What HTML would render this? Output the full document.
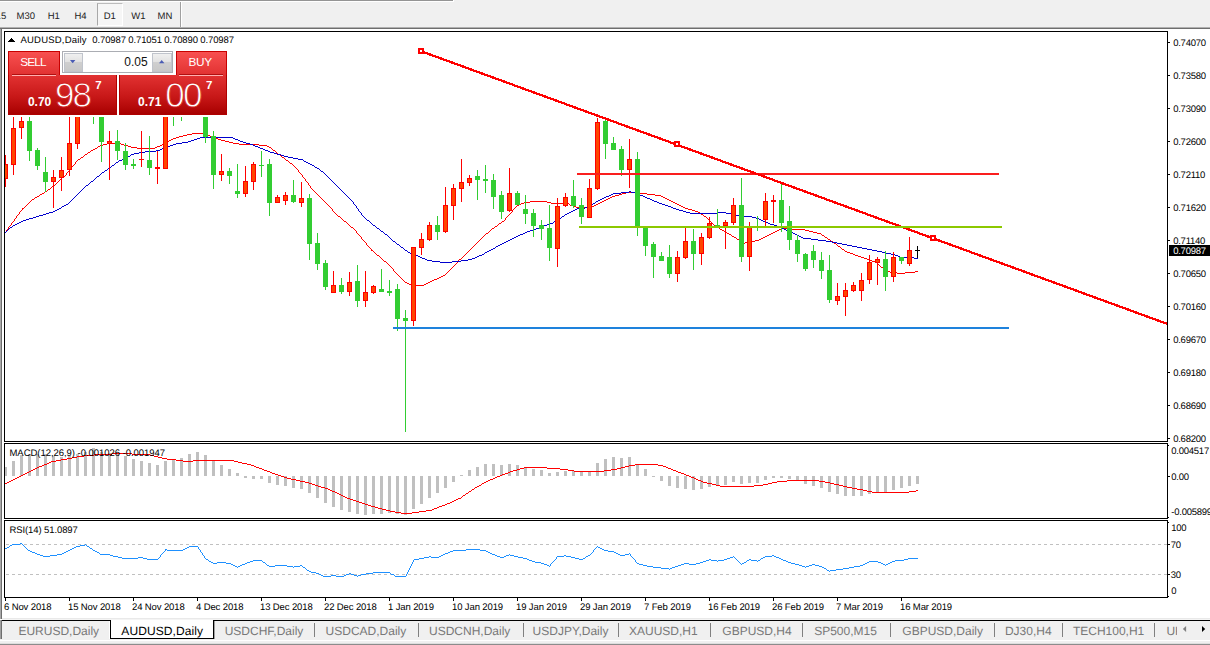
<!DOCTYPE html>
<html><head><meta charset="utf-8"><title>AUDUSD</title>
<style>
html,body{margin:0;padding:0;}
body{width:1210px;height:645px;overflow:hidden;background:#fff;position:relative;font-family:"Liberation Sans",sans-serif;}
.t{position:absolute;font-size:9.5px;line-height:1;white-space:nowrap;color:#000;text-rendering:geometricPrecision;}
.ax{letter-spacing:-0.25px;}
.h{text-rendering:auto;}
.tb{color:#222;}
.tab{color:#787878;}
#tool{position:absolute;left:0;top:0;width:1210px;height:27px;background:#f0f0f0;}
#svg{position:absolute;left:0;top:0;}
.abs{position:absolute;}
</style></head><body>
<div id="tool"></div>
<div class="abs" style="left:0;top:0;width:454px;height:2px;background:#fff"></div>
<div class="abs" style="left:0;top:0;width:453px;height:1px;background:#949494"></div>
<div class="abs" style="left:0;top:27px;width:1210px;height:1px;background:#b0b0b0"></div>
<div class="abs" style="left:0;top:28px;width:1210px;height:1px;background:#6e6e6e"></div>
<div class="abs" style="left:0;top:29px;width:1px;height:590px;background:#a8a8a8"></div>
<div class="abs" style="left:1px;top:29px;width:1px;height:590px;background:#6e6e6e"></div>
<!-- D1 button -->
<div class="abs" style="left:97px;top:3px;width:24px;height:21px;background:#f6f6f6;border-left:1px solid #a8a8a8;border-top:1px solid #bcbcbc;border-right:1px solid #fff;border-bottom:1px solid #fff;box-sizing:content-box"></div>
<div class="abs" style="left:180px;top:2px;width:1px;height:25px;background:#a0a0a0"></div>
<div class="abs" style="left:181px;top:2px;width:1px;height:25px;background:#fff"></div>

<svg id="svg" width="1210" height="645" viewBox="0 0 1210 645" shape-rendering="crispEdges">
<clipPath id="cp"><rect x="5" y="32" width="1162" height="565"/></clipPath>
<g clip-path="url(#cp)">
<g shape-rendering="crispEdges">
<path d="M5 232h1v1h-1zM6 230h1v2h-1zM7 229h1v1h-1zM8 227h1v2h-1zM9 226h1v1h-1zM10 225h1v1h-1zM11 223h1v2h-1zM12 222h1v1h-1zM13 221h1v1h-1zM14 219h1v2h-1zM15 218h1v1h-1zM16 216h1v2h-1zM17 215h1v1h-1zM18 214h1v1h-1zM19 212h1v2h-1zM20 211h1v1h-1zM21 210h1v1h-1zM22 208h1v2h-1zM23 208h1v1h-1zM24 207h1v1h-1zM25 206h1v1h-1zM26 205h1v1h-1zM27 204h1v1h-1zM28 203h1v1h-1zM29 202h1v1h-1zM30 201h1v1h-1zM31 200h1v1h-1zM32 199h2v1h-2zM34 198h1v1h-1zM35 197h2v1h-2zM37 196h2v1h-2zM39 195h1v1h-1zM40 194h2v1h-2zM42 193h2v1h-2zM44 192h1v1h-1zM45 191h2v1h-2zM47 190h1v1h-1zM48 189h2v1h-2zM50 188h1v1h-1zM51 187h1v1h-1zM52 186h2v1h-2zM54 185h1v1h-1zM55 184h1v1h-1zM56 183h1v1h-1zM57 182h1v1h-1zM58 181h1v1h-1zM59 180h1v1h-1zM60 179h1v1h-1zM61 178h1v1h-1zM62 177h2v1h-2zM64 176h1v1h-1zM65 175h1v1h-1zM66 173h1v2h-1zM67 172h1v1h-1zM68 171h1v1h-1zM69 170h1v1h-1zM70 168h1v2h-1zM71 167h1v1h-1zM72 166h1v1h-1zM73 165h1v1h-1zM74 164h1v1h-1zM75 162h1v2h-1zM76 161h1v1h-1zM77 160h1v1h-1zM78 159h2v1h-2zM80 158h1v1h-1zM81 157h2v1h-2zM83 156h1v1h-1zM84 155h1v1h-1zM85 154h2v1h-2zM87 153h1v1h-1zM88 152h2v1h-2zM90 151h1v1h-1zM91 150h2v1h-2zM93 149h2v1h-2zM95 148h2v1h-2zM97 147h1v1h-1zM98 146h2v1h-2zM100 145h3v1h-3zM103 144h4v1h-4zM107 143h14v1h-14zM121 144h3v1h-3zM124 145h4v1h-4zM128 146h3v1h-3zM131 147h6v1h-6zM137 148h18v1h-18zM155 147h2v1h-2zM157 146h3v1h-3zM160 145h2v1h-2zM162 144h1v1h-1zM163 143h2v1h-2zM165 142h2v1h-2zM167 141h2v1h-2zM169 140h2v1h-2zM171 139h2v1h-2zM173 138h3v1h-3zM176 137h3v1h-3zM179 136h4v1h-4zM183 135h4v1h-4zM187 134h5v1h-5zM192 133h11v1h-11zM203 134h4v1h-4zM207 135h3v1h-3zM210 136h3v1h-3zM213 137h2v1h-2zM215 138h3v1h-3zM218 139h3v1h-3zM221 140h4v1h-4zM225 141h4v1h-4zM229 142h4v1h-4zM233 143h6v1h-6zM239 144h20v1h-20zM259 145h8v1h-8zM267 146h2v1h-2zM269 147h2v1h-2zM271 148h1v1h-1zM272 149h1v1h-1zM273 150h2v1h-2zM275 151h1v1h-1zM276 152h1v1h-1zM277 153h1v1h-1zM278 154h2v1h-2zM280 155h1v1h-1zM281 156h1v1h-1zM282 157h2v1h-2zM284 158h1v1h-1zM285 159h1v1h-1zM286 160h2v1h-2zM288 161h1v1h-1zM289 162h1v1h-1zM290 163h2v1h-2zM292 164h1v1h-1zM293 165h1v1h-1zM294 166h1v1h-1zM295 167h1v1h-1zM296 168h1v1h-1zM297 169h1v1h-1zM298 170h1v2h-1zM299 172h1v1h-1zM300 173h1v1h-1zM301 174h1v1h-1zM302 175h1v2h-1zM303 177h1v1h-1zM304 178h1v1h-1zM305 179h1v2h-1zM306 181h1v1h-1zM307 182h1v1h-1zM308 183h1v2h-1zM309 185h1v1h-1zM310 186h1v2h-1zM311 188h1v1h-1zM312 189h1v1h-1zM313 190h1v1h-1zM314 191h1v1h-1zM315 192h1v1h-1zM316 193h1v1h-1zM317 194h1v1h-1zM318 195h1v1h-1zM319 196h1v1h-1zM320 197h1v1h-1zM321 198h1v1h-1zM322 199h1v1h-1zM323 200h1v1h-1zM324 201h1v1h-1zM325 202h1v1h-1zM326 203h1v1h-1zM327 204h1v1h-1zM328 205h1v1h-1zM329 206h1v1h-1zM330 207h1v1h-1zM331 208h1v1h-1zM332 209h1v2h-1zM333 211h1v1h-1zM334 212h1v1h-1zM335 213h1v1h-1zM336 214h1v1h-1zM337 215h1v1h-1zM338 216h2v1h-2zM340 217h1v1h-1zM341 218h1v1h-1zM342 219h1v1h-1zM343 220h1v1h-1zM344 221h2v1h-2zM346 222h1v1h-1zM347 223h1v1h-1zM348 224h1v1h-1zM349 225h1v1h-1zM350 226h1v1h-1zM351 227h2v1h-2zM353 228h1v1h-1zM354 229h1v1h-1zM355 230h1v1h-1zM356 231h1v2h-1zM357 233h1v1h-1zM358 234h1v1h-1zM359 235h1v1h-1zM360 236h1v1h-1zM361 237h1v2h-1zM362 239h1v1h-1zM363 240h1v1h-1zM364 241h1v1h-1zM365 242h1v1h-1zM366 243h1v2h-1zM367 245h1v1h-1zM368 246h1v1h-1zM369 247h1v1h-1zM370 248h1v1h-1zM371 249h1v2h-1zM372 250h1v1h-1zM373 251h1v1h-1zM374 252h1v1h-1zM375 253h1v1h-1zM376 254h1v1h-1zM377 255h2v1h-2zM379 256h1v1h-1zM380 257h1v1h-1zM381 258h1v1h-1zM382 259h1v1h-1zM383 260h1v1h-1zM384 261h2v1h-2zM386 262h1v1h-1zM387 263h1v1h-1zM388 264h1v1h-1zM389 265h1v1h-1zM390 266h1v1h-1zM391 267h1v1h-1zM392 268h1v1h-1zM393 269h1v2h-1zM394 271h1v1h-1zM395 272h1v1h-1zM396 273h1v1h-1zM397 274h1v1h-1zM398 275h1v1h-1zM399 276h1v1h-1zM400 277h1v1h-1zM401 278h1v1h-1zM402 279h1v1h-1zM403 280h1v1h-1zM404 281h1v1h-1zM405 282h2v1h-2zM407 283h2v1h-2zM409 284h3v1h-3zM412 285h12v1h-12zM424 284h2v1h-2zM426 283h2v1h-2zM428 282h2v1h-2zM430 281h2v1h-2zM432 280h2v1h-2zM434 279h3v1h-3zM437 278h2v1h-2zM439 277h2v1h-2zM441 276h2v1h-2zM443 275h2v1h-2zM445 274h1v1h-1zM446 273h1v1h-1zM447 272h1v1h-1zM448 271h1v1h-1zM449 270h1v1h-1zM450 269h1v1h-1zM451 268h1v1h-1zM452 267h1v1h-1zM453 266h1v1h-1zM454 265h1v1h-1zM455 264h1v1h-1zM456 263h1v1h-1zM457 261h1v2h-1zM458 260h1v1h-1zM459 259h2v1h-2zM461 258h1v1h-1zM462 257h1v1h-1zM463 256h1v1h-1zM464 255h1v1h-1zM465 254h1v1h-1zM466 253h1v1h-1zM467 252h1v1h-1zM468 251h1v1h-1zM469 250h1v1h-1zM470 249h1v1h-1zM471 248h1v1h-1zM472 247h1v1h-1zM473 246h1v1h-1zM474 245h1v1h-1zM475 244h1v1h-1zM476 243h1v1h-1zM477 242h1v1h-1zM478 241h1v1h-1zM479 240h1v1h-1zM480 239h1v1h-1zM481 238h1v1h-1zM482 237h1v1h-1zM483 236h1v1h-1zM484 235h1v1h-1zM485 234h1v1h-1zM486 233h2v1h-2zM488 232h1v1h-1zM489 231h1v1h-1zM490 230h1v1h-1zM491 229h1v1h-1zM492 228h2v1h-2zM494 227h1v1h-1zM495 226h2v1h-2zM497 225h1v1h-1zM498 224h1v1h-1zM499 223h2v1h-2zM501 222h1v1h-1zM502 221h2v1h-2zM504 220h1v1h-1zM505 218h1v2h-1zM506 217h1v1h-1zM507 216h1v1h-1zM508 215h1v1h-1zM509 214h1v1h-1zM510 213h1v1h-1zM511 212h1v1h-1zM512 210h1v2h-1zM513 209h1v1h-1zM514 208h1v1h-1zM515 207h1v1h-1zM516 206h1v1h-1zM517 205h2v1h-2zM519 204h2v1h-2zM521 203h3v1h-3zM524 202h6v1h-6zM530 201h17v1h-17zM547 202h4v1h-4zM551 203h18v1h-18zM569 204h1v1h-1zM570 205h3v1h-3zM573 206h3v1h-3zM576 207h3v1h-3zM579 208h5v1h-5zM584 207h7v1h-7zM591 206h3v1h-3zM594 205h2v1h-2zM596 204h2v1h-2zM598 203h2v1h-2zM600 202h2v1h-2zM602 201h2v1h-2zM604 200h2v1h-2zM606 199h2v1h-2zM608 198h2v1h-2zM610 197h2v1h-2zM612 196h3v1h-3zM615 195h4v1h-4zM619 194h3v1h-3zM622 193h4v1h-4zM626 192h13v1h-13zM639 193h8v1h-8zM647 194h8v1h-8zM655 195h6v1h-6zM661 196h2v1h-2zM663 197h2v1h-2zM665 198h2v1h-2zM667 199h2v1h-2zM669 200h2v1h-2zM671 201h2v1h-2zM673 202h2v1h-2zM675 203h2v1h-2zM677 204h2v1h-2zM679 205h2v1h-2zM681 206h2v1h-2zM683 207h2v1h-2zM685 208h3v1h-3zM688 209h4v1h-4zM692 210h3v1h-3zM695 211h3v1h-3zM698 212h2v1h-2zM700 213h1v1h-1zM701 214h2v1h-2zM703 215h1v1h-1zM704 216h2v1h-2zM706 217h1v1h-1zM707 218h1v1h-1zM708 219h1v1h-1zM709 220h1v1h-1zM710 221h1v1h-1zM711 222h1v1h-1zM712 223h1v1h-1zM713 224h1v1h-1zM714 225h1v1h-1zM715 226h2v1h-2zM717 227h2v1h-2zM719 228h1v1h-1zM720 229h2v1h-2zM722 230h2v1h-2zM724 231h2v1h-2zM726 232h1v1h-1zM727 233h2v1h-2zM729 234h2v1h-2zM731 235h1v1h-1zM732 236h2v1h-2zM734 237h2v1h-2zM736 238h1v1h-1zM737 239h2v1h-2zM739 240h2v1h-2zM741 241h1v1h-1zM742 242h2v1h-2zM744 243h1v1h-1zM745 242h4v1h-4zM749 241h6v1h-6zM755 240h4v1h-4zM759 239h2v1h-2zM761 238h2v1h-2zM763 237h2v1h-2zM765 236h2v1h-2zM767 235h2v1h-2zM769 234h2v1h-2zM771 233h2v1h-2zM773 232h2v1h-2zM775 231h2v1h-2zM777 230h2v1h-2zM779 229h2v1h-2zM781 228h11v1h-11zM792 229h13v1h-13zM805 230h4v1h-4zM809 231h4v1h-4zM813 232h4v1h-4zM817 233h4v1h-4zM821 234h1v1h-1zM822 235h2v1h-2zM824 236h1v1h-1zM825 237h2v1h-2zM827 238h1v1h-1zM828 239h2v1h-2zM830 240h1v1h-1zM831 241h2v1h-2zM833 242h1v1h-1zM834 243h2v1h-2zM836 244h1v1h-1zM837 245h1v1h-1zM838 246h2v1h-2zM840 247h1v1h-1zM841 248h1v1h-1zM842 249h2v1h-2zM844 250h1v1h-1zM845 251h2v1h-2zM847 252h3v1h-3zM850 253h3v1h-3zM853 254h2v1h-2zM855 255h3v1h-3zM858 256h3v1h-3zM861 257h3v1h-3zM864 258h3v1h-3zM867 259h2v1h-2zM869 260h3v1h-3zM872 261h3v1h-3zM875 262h2v1h-2zM877 263h1v1h-1zM878 264h1v1h-1zM879 265h1v1h-1zM880 266h1v1h-1zM881 267h2v1h-2zM883 268h1v1h-1zM884 269h2v1h-2zM886 270h2v1h-2zM888 271h2v1h-2zM890 272h7v1h-7zM897 273h8v1h-8zM905 272h10v1h-10zM915 271h3v1h-3z" fill="#ff0000"/>
<path d="M5 232h1v1h-1zM6 231h1v1h-1zM7 230h1v1h-1zM8 229h1v1h-1zM9 228h1v1h-1zM10 227h2v1h-2zM12 226h1v1h-1zM13 225h2v1h-2zM15 224h2v1h-2zM17 223h2v1h-2zM19 222h2v1h-2zM21 221h2v1h-2zM23 220h3v1h-3zM26 219h3v1h-3zM29 218h4v1h-4zM33 217h3v1h-3zM36 216h3v1h-3zM39 215h4v1h-4zM43 214h3v1h-3zM46 213h3v1h-3zM49 212h4v1h-4zM53 211h2v1h-2zM55 210h2v1h-2zM57 209h2v1h-2zM59 208h2v1h-2zM61 207h1v1h-1zM62 206h2v1h-2zM64 205h2v1h-2zM66 204h2v1h-2zM68 203h1v1h-1zM69 202h1v1h-1zM70 201h1v1h-1zM71 200h1v1h-1zM72 199h1v1h-1zM73 198h1v1h-1zM74 197h1v1h-1zM75 196h1v1h-1zM76 195h1v1h-1zM77 194h1v1h-1zM78 193h1v1h-1zM79 192h1v1h-1zM80 191h1v1h-1zM81 190h1v1h-1zM82 189h1v1h-1zM83 188h1v1h-1zM84 187h1v1h-1zM85 186h1v1h-1zM86 185h2v1h-2zM88 184h1v1h-1zM89 183h1v1h-1zM90 182h1v1h-1zM91 181h2v1h-2zM93 180h1v1h-1zM94 179h1v1h-1zM95 178h1v1h-1zM96 177h1v1h-1zM97 176h2v1h-2zM99 175h1v1h-1zM100 174h1v1h-1zM101 173h1v1h-1zM102 172h2v1h-2zM104 171h1v1h-1zM105 170h2v1h-2zM107 169h1v1h-1zM108 168h1v1h-1zM109 167h2v1h-2zM111 166h1v1h-1zM112 165h2v1h-2zM114 164h1v1h-1zM115 163h1v1h-1zM116 162h2v1h-2zM118 161h1v1h-1zM119 160h3v1h-3zM122 159h1v1h-1zM123 158h3v1h-3zM126 157h1v1h-1zM127 156h3v1h-3zM130 155h1v1h-1zM131 154h3v1h-3zM134 153h5v1h-5zM139 152h6v1h-6zM145 151h11v1h-11zM156 150h4v1h-4zM160 149h2v1h-2zM162 148h3v1h-3zM165 147h3v1h-3zM168 146h2v1h-2zM170 145h3v1h-3zM173 144h3v1h-3zM176 143h6v1h-6zM182 142h6v1h-6zM188 141h3v1h-3zM191 140h3v1h-3zM194 139h3v1h-3zM197 138h3v1h-3zM200 137h33v1h-33zM233 138h2v1h-2zM235 139h3v1h-3zM238 140h2v1h-2zM240 141h3v1h-3zM243 142h3v1h-3zM246 143h4v1h-4zM250 144h3v1h-3zM253 145h2v1h-2zM255 146h3v1h-3zM258 147h2v1h-2zM260 148h3v1h-3zM263 149h2v1h-2zM265 150h3v1h-3zM268 151h2v1h-2zM270 152h4v1h-4zM274 153h3v1h-3zM277 154h4v1h-4zM281 155h3v1h-3zM284 156h4v1h-4zM288 157h5v1h-5zM293 158h5v1h-5zM298 159h5v1h-5zM303 160h1v1h-1zM304 161h2v1h-2zM306 162h2v1h-2zM308 163h2v1h-2zM310 164h2v1h-2zM312 165h2v1h-2zM314 166h1v1h-1zM315 167h2v1h-2zM317 168h2v1h-2zM319 169h1v1h-1zM320 170h1v1h-1zM321 171h2v1h-2zM323 172h1v1h-1zM324 173h1v1h-1zM325 174h1v1h-1zM326 175h1v1h-1zM327 176h1v1h-1zM328 177h1v1h-1zM329 178h1v1h-1zM330 179h1v1h-1zM331 180h1v1h-1zM332 181h1v1h-1zM333 182h1v1h-1zM334 183h1v1h-1zM335 184h1v1h-1zM336 185h1v1h-1zM337 186h1v1h-1zM338 187h1v1h-1zM339 188h1v1h-1zM340 189h1v1h-1zM341 190h1v1h-1zM342 191h1v1h-1zM343 192h1v1h-1zM344 193h1v1h-1zM345 194h1v1h-1zM346 195h1v1h-1zM347 196h1v1h-1zM348 197h1v1h-1zM349 198h1v1h-1zM350 199h1v1h-1zM351 200h1v1h-1zM352 201h1v1h-1zM353 202h1v2h-1zM354 204h1v1h-1zM355 205h1v1h-1zM356 206h1v2h-1zM357 208h1v1h-1zM358 209h1v2h-1zM359 211h1v1h-1zM360 212h1v1h-1zM361 213h1v2h-1zM362 215h1v1h-1zM363 216h1v1h-1zM364 217h1v1h-1zM365 218h1v1h-1zM366 219h1v1h-1zM367 220h2v1h-2zM369 221h1v1h-1zM370 222h1v1h-1zM371 223h1v1h-1zM372 224h1v1h-1zM373 225h2v1h-2zM375 226h1v1h-1zM376 227h1v1h-1zM377 228h2v1h-2zM379 229h1v1h-1zM380 230h1v1h-1zM381 231h2v1h-2zM383 232h1v1h-1zM384 233h1v1h-1zM385 234h2v1h-2zM387 235h1v1h-1zM388 236h1v1h-1zM389 237h1v1h-1zM390 238h1v1h-1zM391 239h1v1h-1zM392 240h1v1h-1zM393 241h2v1h-2zM395 242h1v1h-1zM396 243h1v1h-1zM397 244h2v1h-2zM399 245h1v1h-1zM400 246h1v1h-1zM401 247h2v1h-2zM403 248h1v1h-1zM404 249h1v1h-1zM405 250h2v1h-2zM407 251h1v1h-1zM408 252h2v1h-2zM410 253h3v1h-3zM413 254h2v1h-2zM415 255h3v1h-3zM418 256h2v1h-2zM420 257h2v1h-2zM422 258h3v1h-3zM425 259h2v1h-2zM427 260h5v1h-5zM432 261h8v1h-8zM440 262h12v1h-12zM452 261h9v1h-9zM461 260h7v1h-7zM468 259h4v1h-4zM472 258h3v1h-3zM475 257h2v1h-2zM477 256h2v1h-2zM479 255h3v1h-3zM482 254h2v1h-2zM484 253h1v1h-1zM485 252h2v1h-2zM487 251h2v1h-2zM489 250h2v1h-2zM491 249h2v1h-2zM493 248h2v1h-2zM495 247h1v1h-1zM496 246h2v1h-2zM498 245h2v1h-2zM500 244h2v1h-2zM502 243h2v1h-2zM504 242h2v1h-2zM506 241h2v1h-2zM508 240h2v1h-2zM510 239h2v1h-2zM512 238h2v1h-2zM514 237h2v1h-2zM516 236h2v1h-2zM518 235h2v1h-2zM520 234h3v1h-3zM523 233h2v1h-2zM525 232h2v1h-2zM527 231h3v1h-3zM530 230h3v1h-3zM533 229h3v1h-3zM536 228h3v1h-3zM539 227h3v1h-3zM542 226h2v1h-2zM544 225h3v1h-3zM547 224h3v1h-3zM550 223h3v1h-3zM553 222h1v1h-1zM554 221h2v1h-2zM556 220h1v1h-1zM557 219h2v1h-2zM559 218h2v1h-2zM561 217h1v1h-1zM562 216h2v1h-2zM564 215h1v1h-1zM565 214h2v1h-2zM567 213h2v1h-2zM569 212h2v1h-2zM571 211h2v1h-2zM573 210h2v1h-2zM575 209h2v1h-2zM577 208h8v1h-8zM585 207h4v1h-4zM589 206h1v1h-1zM590 205h2v1h-2zM592 204h1v1h-1zM593 203h2v1h-2zM595 202h1v1h-1zM596 201h2v1h-2zM598 200h2v1h-2zM600 199h2v1h-2zM602 198h2v1h-2zM604 197h2v1h-2zM606 196h3v1h-3zM609 195h2v1h-2zM611 194h2v1h-2zM613 193h8v1h-8zM621 192h8v1h-8zM629 191h2v1h-2zM631 192h5v1h-5zM636 193h2v1h-2zM638 194h2v1h-2zM640 195h3v1h-3zM643 196h2v1h-2zM645 197h2v1h-2zM647 198h3v1h-3zM650 199h2v1h-2zM652 200h2v1h-2zM654 201h3v1h-3zM657 202h2v1h-2zM659 203h3v1h-3zM662 204h3v1h-3zM665 205h3v1h-3zM668 206h3v1h-3zM671 207h2v1h-2zM673 208h3v1h-3zM676 209h3v1h-3zM679 210h4v1h-4zM683 211h3v1h-3zM686 212h4v1h-4zM690 213h27v1h-27zM717 212h9v1h-9zM726 213h8v1h-8zM734 214h2v1h-2zM736 215h3v1h-3zM739 216h13v1h-13zM752 217h4v1h-4zM756 218h3v1h-3zM759 219h2v1h-2zM761 220h2v1h-2zM763 221h3v1h-3zM766 222h2v1h-2zM768 223h2v1h-2zM770 224h4v1h-4zM774 225h3v1h-3zM777 226h3v1h-3zM780 227h2v1h-2zM782 228h2v1h-2zM784 229h2v1h-2zM786 230h3v1h-3zM789 231h2v1h-2zM791 232h2v1h-2zM793 233h2v1h-2zM795 234h2v1h-2zM797 235h2v1h-2zM799 236h2v1h-2zM801 237h2v1h-2zM803 238h8v1h-8zM811 239h7v1h-7zM818 240h8v1h-8zM826 241h6v1h-6zM832 242h5v1h-5zM837 243h5v1h-5zM842 244h5v1h-5zM847 245h5v1h-5zM852 246h5v1h-5zM857 247h5v1h-5zM862 248h5v1h-5zM867 249h5v1h-5zM872 250h5v1h-5zM877 251h5v1h-5zM882 252h4v1h-4zM886 253h5v1h-5zM891 254h4v1h-4zM895 255h3v1h-3zM898 256h2v1h-2zM900 257h1v1h-1zM901 258h3v1h-3zM904 257h10v1h-10zM914 258h4v1h-4z" fill="#0000cd"/>
</g>
<rect x="5" y="155" width="1" height="32" fill="#ff0000"/>
<rect x="3" y="164" width="5" height="15" fill="#ff0000"/>
<rect x="4" y="165" width="3" height="13" fill="#ff4500"/>
<rect x="13" y="100" width="1" height="75" fill="#ff0000"/>
<rect x="11" y="128" width="5" height="37" fill="#ff0000"/>
<rect x="12" y="129" width="3" height="35" fill="#ff4500"/>
<rect x="21" y="100" width="1" height="39" fill="#ff0000"/>
<rect x="19" y="121" width="5" height="7" fill="#ff0000"/>
<rect x="20" y="122" width="3" height="5" fill="#ff4500"/>
<rect x="29" y="100" width="1" height="61" fill="#32cd32"/>
<rect x="27" y="121" width="5" height="30" fill="#32cd32"/>
<rect x="37" y="148" width="1" height="22" fill="#32cd32"/>
<rect x="35" y="150" width="5" height="16" fill="#32cd32"/>
<rect x="45" y="157" width="1" height="35" fill="#32cd32"/>
<rect x="43" y="172" width="5" height="10" fill="#32cd32"/>
<rect x="53" y="170" width="1" height="38" fill="#ff0000"/>
<rect x="51" y="177" width="5" height="5" fill="#ff0000"/>
<rect x="52" y="178" width="3" height="3" fill="#ff4500"/>
<rect x="61" y="157" width="1" height="34" fill="#ff0000"/>
<rect x="59" y="170" width="5" height="8" fill="#ff0000"/>
<rect x="60" y="171" width="3" height="6" fill="#ff4500"/>
<rect x="69" y="100" width="1" height="76" fill="#ff0000"/>
<rect x="67" y="143" width="5" height="27" fill="#ff0000"/>
<rect x="68" y="144" width="3" height="25" fill="#ff4500"/>
<rect x="77" y="100" width="1" height="49" fill="#ff0000"/>
<rect x="75" y="100" width="5" height="44" fill="#ff0000"/>
<rect x="76" y="101" width="3" height="42" fill="#ff4500"/>
<rect x="93" y="100" width="1" height="24" fill="#32cd32"/>
<rect x="91" y="100" width="5" height="10" fill="#32cd32"/>
<rect x="101" y="100" width="1" height="62" fill="#32cd32"/>
<rect x="99" y="100" width="5" height="42" fill="#32cd32"/>
<rect x="109" y="131" width="1" height="49" fill="#ff0000"/>
<rect x="107" y="141" width="5" height="3" fill="#ff0000"/>
<rect x="108" y="142" width="3" height="1" fill="#ff4500"/>
<rect x="117" y="130" width="1" height="30" fill="#32cd32"/>
<rect x="115" y="141" width="5" height="10" fill="#32cd32"/>
<rect x="125" y="143" width="1" height="27" fill="#32cd32"/>
<rect x="123" y="151" width="5" height="14" fill="#32cd32"/>
<rect x="133" y="159" width="1" height="10" fill="#32cd32"/>
<rect x="131" y="164" width="5" height="2" fill="#32cd32"/>
<rect x="141" y="131" width="1" height="36" fill="#ff0000"/>
<rect x="139" y="159" width="5" height="1" fill="#ff0000"/>
<rect x="149" y="136" width="1" height="39" fill="#32cd32"/>
<rect x="147" y="160" width="5" height="8" fill="#32cd32"/>
<rect x="157" y="151" width="1" height="33" fill="#ff0000"/>
<rect x="155" y="167" width="5" height="2" fill="#ff0000"/>
<rect x="165" y="100" width="1" height="69" fill="#ff0000"/>
<rect x="163" y="100" width="5" height="69" fill="#ff0000"/>
<rect x="164" y="101" width="3" height="67" fill="#ff4500"/>
<rect x="173" y="100" width="1" height="26" fill="#32cd32"/>
<rect x="171" y="100" width="5" height="12" fill="#32cd32"/>
<rect x="181" y="100" width="1" height="21" fill="#32cd32"/>
<rect x="179" y="100" width="5" height="12" fill="#32cd32"/>
<rect x="205" y="100" width="1" height="43" fill="#32cd32"/>
<rect x="203" y="100" width="5" height="37" fill="#32cd32"/>
<rect x="213" y="131" width="1" height="58" fill="#32cd32"/>
<rect x="211" y="136" width="5" height="39" fill="#32cd32"/>
<rect x="221" y="154" width="1" height="27" fill="#ff0000"/>
<rect x="219" y="171" width="5" height="4" fill="#ff0000"/>
<rect x="220" y="172" width="3" height="2" fill="#ff4500"/>
<rect x="229" y="168" width="1" height="16" fill="#32cd32"/>
<rect x="227" y="171" width="5" height="5" fill="#32cd32"/>
<rect x="237" y="164" width="1" height="34" fill="#32cd32"/>
<rect x="235" y="191" width="5" height="3" fill="#32cd32"/>
<rect x="245" y="166" width="1" height="31" fill="#ff0000"/>
<rect x="243" y="181" width="5" height="13" fill="#ff0000"/>
<rect x="244" y="182" width="3" height="11" fill="#ff4500"/>
<rect x="253" y="162" width="1" height="28" fill="#ff0000"/>
<rect x="251" y="164" width="5" height="18" fill="#ff0000"/>
<rect x="252" y="165" width="3" height="16" fill="#ff4500"/>
<rect x="261" y="151" width="1" height="26" fill="#32cd32"/>
<rect x="259" y="165" width="5" height="1" fill="#32cd32"/>
<rect x="269" y="159" width="1" height="57" fill="#32cd32"/>
<rect x="267" y="164" width="5" height="39" fill="#32cd32"/>
<rect x="277" y="195" width="1" height="8" fill="#ff0000"/>
<rect x="275" y="197" width="5" height="6" fill="#ff0000"/>
<rect x="276" y="198" width="3" height="4" fill="#ff4500"/>
<rect x="285" y="192" width="1" height="13" fill="#ff0000"/>
<rect x="283" y="195" width="5" height="6" fill="#ff0000"/>
<rect x="284" y="196" width="3" height="4" fill="#ff4500"/>
<rect x="293" y="180" width="1" height="23" fill="#32cd32"/>
<rect x="291" y="195" width="5" height="7" fill="#32cd32"/>
<rect x="301" y="182" width="1" height="25" fill="#ff0000"/>
<rect x="299" y="198" width="5" height="5" fill="#ff0000"/>
<rect x="300" y="199" width="3" height="3" fill="#ff4500"/>
<rect x="309" y="194" width="1" height="66" fill="#32cd32"/>
<rect x="307" y="198" width="5" height="46" fill="#32cd32"/>
<rect x="317" y="233" width="1" height="37" fill="#32cd32"/>
<rect x="315" y="243" width="5" height="21" fill="#32cd32"/>
<rect x="325" y="260" width="1" height="30" fill="#32cd32"/>
<rect x="323" y="263" width="5" height="24" fill="#32cd32"/>
<rect x="333" y="271" width="1" height="22" fill="#ff0000"/>
<rect x="331" y="285" width="5" height="8" fill="#ff0000"/>
<rect x="332" y="286" width="3" height="6" fill="#ff4500"/>
<rect x="341" y="278" width="1" height="16" fill="#32cd32"/>
<rect x="339" y="285" width="5" height="7" fill="#32cd32"/>
<rect x="349" y="272" width="1" height="24" fill="#ff0000"/>
<rect x="347" y="282" width="5" height="10" fill="#ff0000"/>
<rect x="348" y="283" width="3" height="8" fill="#ff4500"/>
<rect x="357" y="265" width="1" height="42" fill="#32cd32"/>
<rect x="355" y="281" width="5" height="20" fill="#32cd32"/>
<rect x="365" y="271" width="1" height="36" fill="#ff0000"/>
<rect x="363" y="292" width="5" height="9" fill="#ff0000"/>
<rect x="364" y="293" width="3" height="7" fill="#ff4500"/>
<rect x="373" y="285" width="1" height="9" fill="#ff0000"/>
<rect x="371" y="286" width="5" height="7" fill="#ff0000"/>
<rect x="372" y="287" width="3" height="5" fill="#ff4500"/>
<rect x="381" y="269" width="1" height="23" fill="#32cd32"/>
<rect x="379" y="289" width="5" height="3" fill="#32cd32"/>
<rect x="389" y="280" width="1" height="16" fill="#32cd32"/>
<rect x="387" y="291" width="5" height="2" fill="#32cd32"/>
<rect x="397" y="284" width="1" height="47" fill="#32cd32"/>
<rect x="395" y="289" width="5" height="30" fill="#32cd32"/>
<rect x="405" y="310" width="1" height="122" fill="#32cd32"/>
<rect x="403" y="318" width="5" height="3" fill="#32cd32"/>
<rect x="413" y="247" width="1" height="79" fill="#ff0000"/>
<rect x="411" y="247" width="5" height="74" fill="#ff0000"/>
<rect x="412" y="248" width="3" height="72" fill="#ff4500"/>
<rect x="421" y="233" width="1" height="22" fill="#ff0000"/>
<rect x="419" y="239" width="5" height="9" fill="#ff0000"/>
<rect x="420" y="240" width="3" height="7" fill="#ff4500"/>
<rect x="429" y="222" width="1" height="19" fill="#ff0000"/>
<rect x="427" y="225" width="5" height="15" fill="#ff0000"/>
<rect x="428" y="226" width="3" height="13" fill="#ff4500"/>
<rect x="437" y="216" width="1" height="24" fill="#32cd32"/>
<rect x="435" y="225" width="5" height="7" fill="#32cd32"/>
<rect x="445" y="187" width="1" height="46" fill="#ff0000"/>
<rect x="443" y="205" width="5" height="27" fill="#ff0000"/>
<rect x="444" y="206" width="3" height="25" fill="#ff4500"/>
<rect x="453" y="184" width="1" height="36" fill="#ff0000"/>
<rect x="451" y="188" width="5" height="18" fill="#ff0000"/>
<rect x="452" y="189" width="3" height="16" fill="#ff4500"/>
<rect x="461" y="159" width="1" height="43" fill="#ff0000"/>
<rect x="459" y="182" width="5" height="7" fill="#ff0000"/>
<rect x="460" y="183" width="3" height="5" fill="#ff4500"/>
<rect x="469" y="175" width="1" height="11" fill="#ff0000"/>
<rect x="467" y="178" width="5" height="5" fill="#ff0000"/>
<rect x="468" y="179" width="3" height="3" fill="#ff4500"/>
<rect x="477" y="170" width="1" height="30" fill="#32cd32"/>
<rect x="475" y="176" width="5" height="4" fill="#32cd32"/>
<rect x="485" y="165" width="1" height="28" fill="#32cd32"/>
<rect x="483" y="179" width="5" height="2" fill="#32cd32"/>
<rect x="493" y="174" width="1" height="35" fill="#32cd32"/>
<rect x="491" y="180" width="5" height="17" fill="#32cd32"/>
<rect x="501" y="191" width="1" height="28" fill="#32cd32"/>
<rect x="499" y="195" width="5" height="17" fill="#32cd32"/>
<rect x="509" y="168" width="1" height="44" fill="#ff0000"/>
<rect x="507" y="193" width="5" height="18" fill="#ff0000"/>
<rect x="508" y="194" width="3" height="16" fill="#ff4500"/>
<rect x="517" y="191" width="1" height="14" fill="#32cd32"/>
<rect x="515" y="193" width="5" height="12" fill="#32cd32"/>
<rect x="525" y="195" width="1" height="29" fill="#32cd32"/>
<rect x="523" y="209" width="5" height="5" fill="#32cd32"/>
<rect x="533" y="209" width="1" height="28" fill="#32cd32"/>
<rect x="531" y="213" width="5" height="13" fill="#32cd32"/>
<rect x="541" y="220" width="1" height="20" fill="#32cd32"/>
<rect x="539" y="225" width="5" height="4" fill="#32cd32"/>
<rect x="549" y="205" width="1" height="56" fill="#32cd32"/>
<rect x="547" y="228" width="5" height="20" fill="#32cd32"/>
<rect x="557" y="198" width="1" height="69" fill="#ff0000"/>
<rect x="555" y="206" width="5" height="43" fill="#ff0000"/>
<rect x="556" y="207" width="3" height="41" fill="#ff4500"/>
<rect x="565" y="193" width="1" height="14" fill="#ff0000"/>
<rect x="563" y="197" width="5" height="9" fill="#ff0000"/>
<rect x="564" y="198" width="3" height="7" fill="#ff4500"/>
<rect x="573" y="180" width="1" height="28" fill="#32cd32"/>
<rect x="571" y="196" width="5" height="10" fill="#32cd32"/>
<rect x="581" y="198" width="1" height="26" fill="#32cd32"/>
<rect x="579" y="205" width="5" height="12" fill="#32cd32"/>
<rect x="589" y="179" width="1" height="39" fill="#ff0000"/>
<rect x="587" y="188" width="5" height="30" fill="#ff0000"/>
<rect x="588" y="189" width="3" height="28" fill="#ff4500"/>
<rect x="597" y="118" width="1" height="72" fill="#ff0000"/>
<rect x="595" y="122" width="5" height="67" fill="#ff0000"/>
<rect x="596" y="123" width="3" height="65" fill="#ff4500"/>
<rect x="605" y="119" width="1" height="40" fill="#32cd32"/>
<rect x="603" y="121" width="5" height="23" fill="#32cd32"/>
<rect x="613" y="137" width="1" height="13" fill="#32cd32"/>
<rect x="611" y="143" width="5" height="7" fill="#32cd32"/>
<rect x="621" y="146" width="1" height="30" fill="#32cd32"/>
<rect x="619" y="149" width="5" height="21" fill="#32cd32"/>
<rect x="629" y="139" width="1" height="49" fill="#ff0000"/>
<rect x="627" y="159" width="5" height="11" fill="#ff0000"/>
<rect x="628" y="160" width="3" height="9" fill="#ff4500"/>
<rect x="637" y="152" width="1" height="84" fill="#32cd32"/>
<rect x="635" y="159" width="5" height="69" fill="#32cd32"/>
<rect x="645" y="227" width="1" height="29" fill="#32cd32"/>
<rect x="643" y="227" width="5" height="19" fill="#32cd32"/>
<rect x="653" y="242" width="1" height="36" fill="#32cd32"/>
<rect x="651" y="244" width="5" height="13" fill="#32cd32"/>
<rect x="661" y="252" width="1" height="9" fill="#32cd32"/>
<rect x="659" y="256" width="5" height="5" fill="#32cd32"/>
<rect x="669" y="245" width="1" height="33" fill="#32cd32"/>
<rect x="667" y="257" width="5" height="17" fill="#32cd32"/>
<rect x="677" y="251" width="1" height="31" fill="#ff0000"/>
<rect x="675" y="257" width="5" height="17" fill="#ff0000"/>
<rect x="676" y="258" width="3" height="15" fill="#ff4500"/>
<rect x="685" y="228" width="1" height="31" fill="#ff0000"/>
<rect x="683" y="241" width="5" height="17" fill="#ff0000"/>
<rect x="684" y="242" width="3" height="15" fill="#ff4500"/>
<rect x="693" y="229" width="1" height="41" fill="#32cd32"/>
<rect x="691" y="241" width="5" height="13" fill="#32cd32"/>
<rect x="701" y="233" width="1" height="32" fill="#ff0000"/>
<rect x="699" y="237" width="5" height="17" fill="#ff0000"/>
<rect x="700" y="238" width="3" height="15" fill="#ff4500"/>
<rect x="709" y="217" width="1" height="22" fill="#ff0000"/>
<rect x="707" y="223" width="5" height="15" fill="#ff0000"/>
<rect x="708" y="224" width="3" height="13" fill="#ff4500"/>
<rect x="717" y="209" width="1" height="18" fill="#32cd32"/>
<rect x="715" y="225" width="5" height="2" fill="#32cd32"/>
<rect x="725" y="220" width="1" height="29" fill="#ff0000"/>
<rect x="723" y="222" width="5" height="4" fill="#ff0000"/>
<rect x="724" y="223" width="3" height="2" fill="#ff4500"/>
<rect x="733" y="198" width="1" height="27" fill="#ff0000"/>
<rect x="731" y="205" width="5" height="18" fill="#ff0000"/>
<rect x="732" y="206" width="3" height="16" fill="#ff4500"/>
<rect x="741" y="178" width="1" height="84" fill="#32cd32"/>
<rect x="739" y="205" width="5" height="52" fill="#32cd32"/>
<rect x="749" y="222" width="1" height="49" fill="#ff0000"/>
<rect x="747" y="227" width="5" height="30" fill="#ff0000"/>
<rect x="748" y="228" width="3" height="28" fill="#ff4500"/>
<rect x="757" y="216" width="1" height="15" fill="#32cd32"/>
<rect x="755" y="226" width="5" height="2" fill="#32cd32"/>
<rect x="765" y="193" width="1" height="33" fill="#ff0000"/>
<rect x="763" y="201" width="5" height="19" fill="#ff0000"/>
<rect x="764" y="202" width="3" height="17" fill="#ff4500"/>
<rect x="773" y="195" width="1" height="28" fill="#ff0000"/>
<rect x="771" y="200" width="5" height="2" fill="#ff0000"/>
<rect x="781" y="183" width="1" height="49" fill="#32cd32"/>
<rect x="779" y="200" width="5" height="23" fill="#32cd32"/>
<rect x="789" y="206" width="1" height="44" fill="#32cd32"/>
<rect x="787" y="221" width="5" height="19" fill="#32cd32"/>
<rect x="797" y="235" width="1" height="27" fill="#32cd32"/>
<rect x="795" y="240" width="5" height="14" fill="#32cd32"/>
<rect x="805" y="253" width="1" height="18" fill="#32cd32"/>
<rect x="803" y="254" width="5" height="15" fill="#32cd32"/>
<rect x="813" y="245" width="1" height="23" fill="#32cd32"/>
<rect x="811" y="251" width="5" height="9" fill="#32cd32"/>
<rect x="821" y="252" width="1" height="27" fill="#32cd32"/>
<rect x="819" y="260" width="5" height="11" fill="#32cd32"/>
<rect x="829" y="255" width="1" height="48" fill="#32cd32"/>
<rect x="827" y="270" width="5" height="30" fill="#32cd32"/>
<rect x="837" y="283" width="1" height="22" fill="#ff0000"/>
<rect x="835" y="296" width="5" height="5" fill="#ff0000"/>
<rect x="836" y="297" width="3" height="3" fill="#ff4500"/>
<rect x="845" y="283" width="1" height="33" fill="#ff0000"/>
<rect x="843" y="290" width="5" height="7" fill="#ff0000"/>
<rect x="844" y="291" width="3" height="5" fill="#ff4500"/>
<rect x="853" y="282" width="1" height="10" fill="#ff0000"/>
<rect x="851" y="285" width="5" height="6" fill="#ff0000"/>
<rect x="852" y="286" width="3" height="4" fill="#ff4500"/>
<rect x="861" y="273" width="1" height="28" fill="#ff0000"/>
<rect x="859" y="280" width="5" height="11" fill="#ff0000"/>
<rect x="860" y="281" width="3" height="9" fill="#ff4500"/>
<rect x="869" y="255" width="1" height="29" fill="#ff0000"/>
<rect x="867" y="262" width="5" height="18" fill="#ff0000"/>
<rect x="868" y="263" width="3" height="16" fill="#ff4500"/>
<rect x="877" y="257" width="1" height="28" fill="#ff0000"/>
<rect x="875" y="259" width="5" height="4" fill="#ff0000"/>
<rect x="876" y="260" width="3" height="2" fill="#ff4500"/>
<rect x="885" y="251" width="1" height="40" fill="#32cd32"/>
<rect x="883" y="259" width="5" height="18" fill="#32cd32"/>
<rect x="893" y="252" width="1" height="30" fill="#ff0000"/>
<rect x="891" y="257" width="5" height="20" fill="#ff0000"/>
<rect x="892" y="258" width="3" height="18" fill="#ff4500"/>
<rect x="901" y="257" width="1" height="7" fill="#32cd32"/>
<rect x="899" y="257" width="5" height="4" fill="#32cd32"/>
<rect x="909" y="237" width="1" height="29" fill="#ff0000"/>
<rect x="907" y="250" width="5" height="14" fill="#ff0000"/>
<rect x="908" y="251" width="3" height="12" fill="#ff4500"/>
<rect x="917" y="246" width="1" height="12" fill="#000"/>
<rect x="915" y="250" width="5" height="1" fill="#000"/>
<rect x="577" y="173" width="422" height="2" fill="#fa1e1e"/>
<rect x="579" y="226" width="423" height="2" fill="#8cc800"/>
<rect x="393" y="327" width="616" height="2" fill="#1e82dc"/>
<line x1="421" y1="51.2" x2="1167" y2="323.8" stroke="#ff0000" stroke-width="2.3" shape-rendering="crispEdges"/>
<rect x="890" y="226" width="40" height="2" fill="#8cc800"/>
<rect x="418" y="48" width="6" height="6" fill="#ff0000"/>
<rect x="420" y="50" width="2" height="2" fill="#fff"/>
<rect x="674" y="141" width="6" height="6" fill="#ff0000"/>
<rect x="676" y="143" width="2" height="2" fill="#fff"/>
<rect x="930" y="235" width="6" height="6" fill="#ff0000"/>
<rect x="932" y="237" width="2" height="2" fill="#fff"/>
<rect x="5" y="467" width="2" height="9" fill="#c0c0c0"/>
<rect x="12" y="461" width="3" height="15" fill="#c0c0c0"/>
<rect x="20" y="455" width="3" height="21" fill="#c0c0c0"/>
<rect x="28" y="454" width="3" height="22" fill="#c0c0c0"/>
<rect x="36" y="454" width="3" height="22" fill="#c0c0c0"/>
<rect x="44" y="454" width="3" height="22" fill="#c0c0c0"/>
<rect x="52" y="456" width="3" height="20" fill="#c0c0c0"/>
<rect x="60" y="457" width="3" height="19" fill="#c0c0c0"/>
<rect x="68" y="456" width="3" height="20" fill="#c0c0c0"/>
<rect x="76" y="454" width="3" height="22" fill="#c0c0c0"/>
<rect x="84" y="452" width="3" height="24" fill="#c0c0c0"/>
<rect x="92" y="448" width="3" height="28" fill="#c0c0c0"/>
<rect x="100" y="452" width="3" height="24" fill="#c0c0c0"/>
<rect x="108" y="453" width="3" height="23" fill="#c0c0c0"/>
<rect x="116" y="454" width="3" height="22" fill="#c0c0c0"/>
<rect x="124" y="456" width="3" height="20" fill="#c0c0c0"/>
<rect x="132" y="459" width="3" height="17" fill="#c0c0c0"/>
<rect x="140" y="461" width="3" height="15" fill="#c0c0c0"/>
<rect x="148" y="463" width="3" height="13" fill="#c0c0c0"/>
<rect x="156" y="465" width="3" height="11" fill="#c0c0c0"/>
<rect x="164" y="461" width="3" height="15" fill="#c0c0c0"/>
<rect x="172" y="460" width="3" height="16" fill="#c0c0c0"/>
<rect x="180" y="458" width="3" height="18" fill="#c0c0c0"/>
<rect x="188" y="454" width="3" height="22" fill="#c0c0c0"/>
<rect x="196" y="452" width="3" height="24" fill="#c0c0c0"/>
<rect x="204" y="455" width="3" height="21" fill="#c0c0c0"/>
<rect x="212" y="460" width="3" height="16" fill="#c0c0c0"/>
<rect x="220" y="465" width="3" height="11" fill="#c0c0c0"/>
<rect x="228" y="469" width="3" height="7" fill="#c0c0c0"/>
<rect x="236" y="473" width="3" height="3" fill="#c0c0c0"/>
<rect x="244" y="476" width="3" height="2" fill="#c0c0c0"/>
<rect x="252" y="476" width="3" height="3" fill="#c0c0c0"/>
<rect x="260" y="476" width="3" height="3" fill="#c0c0c0"/>
<rect x="268" y="476" width="3" height="7" fill="#c0c0c0"/>
<rect x="276" y="476" width="3" height="9" fill="#c0c0c0"/>
<rect x="284" y="476" width="3" height="10" fill="#c0c0c0"/>
<rect x="292" y="476" width="3" height="12" fill="#c0c0c0"/>
<rect x="300" y="476" width="3" height="13" fill="#c0c0c0"/>
<rect x="308" y="476" width="3" height="17" fill="#c0c0c0"/>
<rect x="316" y="476" width="3" height="22" fill="#c0c0c0"/>
<rect x="324" y="476" width="3" height="27" fill="#c0c0c0"/>
<rect x="332" y="476" width="3" height="31" fill="#c0c0c0"/>
<rect x="340" y="476" width="3" height="34" fill="#c0c0c0"/>
<rect x="348" y="476" width="3" height="36" fill="#c0c0c0"/>
<rect x="356" y="476" width="3" height="38" fill="#c0c0c0"/>
<rect x="364" y="476" width="3" height="39" fill="#c0c0c0"/>
<rect x="372" y="476" width="3" height="38" fill="#c0c0c0"/>
<rect x="380" y="476" width="3" height="38" fill="#c0c0c0"/>
<rect x="388" y="476" width="3" height="37" fill="#c0c0c0"/>
<rect x="396" y="476" width="3" height="38" fill="#c0c0c0"/>
<rect x="404" y="476" width="3" height="39" fill="#c0c0c0"/>
<rect x="412" y="476" width="3" height="33" fill="#c0c0c0"/>
<rect x="420" y="476" width="3" height="28" fill="#c0c0c0"/>
<rect x="428" y="476" width="3" height="22" fill="#c0c0c0"/>
<rect x="436" y="476" width="3" height="17" fill="#c0c0c0"/>
<rect x="444" y="476" width="3" height="12" fill="#c0c0c0"/>
<rect x="452" y="476" width="3" height="6" fill="#c0c0c0"/>
<rect x="460" y="475" width="3" height="1" fill="#c0c0c0"/>
<rect x="468" y="470" width="3" height="6" fill="#c0c0c0"/>
<rect x="476" y="467" width="3" height="9" fill="#c0c0c0"/>
<rect x="484" y="464" width="3" height="12" fill="#c0c0c0"/>
<rect x="492" y="464" width="3" height="12" fill="#c0c0c0"/>
<rect x="500" y="465" width="3" height="11" fill="#c0c0c0"/>
<rect x="508" y="464" width="3" height="12" fill="#c0c0c0"/>
<rect x="516" y="465" width="3" height="11" fill="#c0c0c0"/>
<rect x="524" y="467" width="3" height="9" fill="#c0c0c0"/>
<rect x="532" y="469" width="3" height="7" fill="#c0c0c0"/>
<rect x="540" y="470" width="3" height="6" fill="#c0c0c0"/>
<rect x="548" y="473" width="3" height="3" fill="#c0c0c0"/>
<rect x="556" y="472" width="3" height="4" fill="#c0c0c0"/>
<rect x="564" y="471" width="3" height="5" fill="#c0c0c0"/>
<rect x="572" y="471" width="3" height="5" fill="#c0c0c0"/>
<rect x="580" y="471" width="3" height="5" fill="#c0c0c0"/>
<rect x="588" y="471" width="3" height="5" fill="#c0c0c0"/>
<rect x="596" y="463" width="3" height="13" fill="#c0c0c0"/>
<rect x="604" y="459" width="3" height="17" fill="#c0c0c0"/>
<rect x="612" y="457" width="3" height="19" fill="#c0c0c0"/>
<rect x="620" y="458" width="3" height="18" fill="#c0c0c0"/>
<rect x="628" y="457" width="3" height="19" fill="#c0c0c0"/>
<rect x="636" y="464" width="3" height="12" fill="#c0c0c0"/>
<rect x="644" y="469" width="3" height="7" fill="#c0c0c0"/>
<rect x="652" y="476" width="3" height="1" fill="#c0c0c0"/>
<rect x="660" y="476" width="3" height="5" fill="#c0c0c0"/>
<rect x="668" y="476" width="3" height="10" fill="#c0c0c0"/>
<rect x="676" y="476" width="3" height="12" fill="#c0c0c0"/>
<rect x="684" y="476" width="3" height="13" fill="#c0c0c0"/>
<rect x="692" y="476" width="3" height="14" fill="#c0c0c0"/>
<rect x="700" y="476" width="3" height="13" fill="#c0c0c0"/>
<rect x="708" y="476" width="3" height="11" fill="#c0c0c0"/>
<rect x="716" y="476" width="3" height="9" fill="#c0c0c0"/>
<rect x="724" y="476" width="3" height="9" fill="#c0c0c0"/>
<rect x="732" y="476" width="3" height="6" fill="#c0c0c0"/>
<rect x="740" y="476" width="3" height="8" fill="#c0c0c0"/>
<rect x="748" y="476" width="3" height="7" fill="#c0c0c0"/>
<rect x="756" y="476" width="3" height="7" fill="#c0c0c0"/>
<rect x="764" y="476" width="3" height="4" fill="#c0c0c0"/>
<rect x="772" y="476" width="3" height="2" fill="#c0c0c0"/>
<rect x="780" y="476" width="3" height="2" fill="#c0c0c0"/>
<rect x="788" y="476" width="3" height="3" fill="#c0c0c0"/>
<rect x="796" y="476" width="3" height="5" fill="#c0c0c0"/>
<rect x="804" y="476" width="3" height="8" fill="#c0c0c0"/>
<rect x="812" y="476" width="3" height="10" fill="#c0c0c0"/>
<rect x="820" y="476" width="3" height="12" fill="#c0c0c0"/>
<rect x="828" y="476" width="3" height="16" fill="#c0c0c0"/>
<rect x="836" y="476" width="3" height="18" fill="#c0c0c0"/>
<rect x="844" y="476" width="3" height="20" fill="#c0c0c0"/>
<rect x="852" y="476" width="3" height="20" fill="#c0c0c0"/>
<rect x="860" y="476" width="3" height="20" fill="#c0c0c0"/>
<rect x="868" y="476" width="3" height="18" fill="#c0c0c0"/>
<rect x="876" y="476" width="3" height="17" fill="#c0c0c0"/>
<rect x="884" y="476" width="3" height="17" fill="#c0c0c0"/>
<rect x="892" y="476" width="3" height="14" fill="#c0c0c0"/>
<rect x="900" y="476" width="3" height="12" fill="#c0c0c0"/>
<rect x="908" y="476" width="3" height="10" fill="#c0c0c0"/>
<rect x="916" y="476" width="3" height="8" fill="#c0c0c0"/>
<g shape-rendering="crispEdges">
<path d="M5 483h2v1h-2zM7 482h2v1h-2zM9 481h2v1h-2zM11 480h2v1h-2zM13 479h2v1h-2zM15 478h2v1h-2zM17 477h2v1h-2zM19 476h2v1h-2zM21 475h2v1h-2zM23 474h2v1h-2zM25 473h2v1h-2zM27 472h2v1h-2zM29 471h2v1h-2zM31 470h2v1h-2zM33 469h2v1h-2zM35 468h2v1h-2zM37 467h2v1h-2zM39 466h3v1h-3zM42 465h2v1h-2zM44 464h3v1h-3zM47 463h2v1h-2zM49 462h2v1h-2zM51 461h5v1h-5zM56 460h5v1h-5zM61 459h6v1h-6zM67 458h5v1h-5zM72 457h5v1h-5zM77 456h7v1h-7zM84 455h10v1h-10zM94 454h18v1h-18zM112 453h20v1h-20zM132 454h18v1h-18zM150 455h4v1h-4zM154 456h4v1h-4zM158 457h4v1h-4zM162 458h5v1h-5zM167 459h9v1h-9zM176 460h7v1h-7zM183 461h10v1h-10zM193 460h41v1h-41zM234 461h4v1h-4zM238 462h4v1h-4zM242 463h5v1h-5zM247 464h4v1h-4zM251 465h3v1h-3zM254 466h2v1h-2zM256 467h3v1h-3zM259 468h3v1h-3zM262 469h2v1h-2zM264 470h3v1h-3zM267 471h3v1h-3zM270 472h2v1h-2zM272 473h3v1h-3zM275 474h3v1h-3zM278 475h3v1h-3zM281 476h3v1h-3zM284 477h3v1h-3zM287 478h4v1h-4zM291 479h5v1h-5zM296 480h4v1h-4zM300 481h5v1h-5zM305 482h4v1h-4zM309 483h3v1h-3zM312 484h3v1h-3zM315 485h3v1h-3zM318 486h3v1h-3zM321 487h4v1h-4zM325 488h3v1h-3zM328 489h2v1h-2zM330 490h2v1h-2zM332 491h3v1h-3zM335 492h2v1h-2zM337 493h2v1h-2zM339 494h2v1h-2zM341 495h2v1h-2zM343 496h2v1h-2zM345 497h2v1h-2zM347 498h3v1h-3zM350 499h3v1h-3zM353 500h3v1h-3zM356 501h3v1h-3zM359 502h3v1h-3zM362 503h3v1h-3zM365 504h3v1h-3zM368 505h3v1h-3zM371 506h4v1h-4zM375 507h3v1h-3zM378 508h4v1h-4zM382 509h4v1h-4zM386 510h4v1h-4zM390 511h5v1h-5zM395 512h6v1h-6zM401 513h11v1h-11zM412 512h7v1h-7zM419 511h7v1h-7zM426 510h6v1h-6zM432 509h2v1h-2zM434 508h3v1h-3zM437 507h2v1h-2zM439 506h3v1h-3zM442 505h3v1h-3zM445 504h2v1h-2zM447 503h3v1h-3zM450 502h2v1h-2zM452 501h2v1h-2zM454 500h2v1h-2zM456 499h2v1h-2zM458 498h3v1h-3zM461 497h1v1h-1zM462 496h1v1h-1zM463 495h2v1h-2zM465 494h1v1h-1zM466 493h2v1h-2zM468 492h1v1h-1zM469 491h2v1h-2zM471 490h1v1h-1zM472 489h2v1h-2zM474 488h1v1h-1zM475 487h2v1h-2zM477 486h2v1h-2zM479 485h2v1h-2zM481 484h1v1h-1zM482 483h2v1h-2zM484 482h2v1h-2zM486 481h2v1h-2zM488 480h2v1h-2zM490 479h3v1h-3zM493 478h2v1h-2zM495 477h2v1h-2zM497 476h3v1h-3zM500 475h2v1h-2zM502 474h3v1h-3zM505 473h3v1h-3zM508 472h2v1h-2zM510 471h3v1h-3zM513 470h4v1h-4zM517 469h3v1h-3zM520 468h4v1h-4zM524 467h23v1h-23zM547 468h13v1h-13zM560 469h8v1h-8zM568 470h6v1h-6zM574 471h30v1h-30zM604 470h7v1h-7zM611 469h6v1h-6zM617 468h4v1h-4zM621 467h4v1h-4zM625 466h4v1h-4zM629 465h6v1h-6zM635 464h23v1h-23zM658 465h5v1h-5zM663 466h3v1h-3zM666 467h2v1h-2zM668 468h3v1h-3zM671 469h2v1h-2zM673 470h3v1h-3zM676 471h2v1h-2zM678 472h3v1h-3zM681 473h3v1h-3zM684 474h2v1h-2zM686 475h3v1h-3zM689 476h2v1h-2zM691 477h3v1h-3zM694 478h2v1h-2zM696 479h2v1h-2zM698 480h3v1h-3zM701 481h2v1h-2zM703 482h4v1h-4zM707 483h5v1h-5zM712 484h4v1h-4zM716 485h4v1h-4zM720 486h34v1h-34zM754 485h9v1h-9zM763 484h5v1h-5zM768 483h4v1h-4zM772 482h5v1h-5zM777 481h10v1h-10zM787 480h32v1h-32zM819 481h6v1h-6zM825 482h5v1h-5zM830 483h4v1h-4zM834 484h5v1h-5zM839 485h4v1h-4zM843 486h4v1h-4zM847 487h5v1h-5zM852 488h5v1h-5zM857 489h6v1h-6zM863 490h4v1h-4zM867 491h5v1h-5zM872 492h37v1h-37zM909 491h7v1h-7zM916 490h2v1h-2z" fill="#ff0000"/>
<line x1="6" y1="544.5" x2="1167" y2="544.5" stroke="#c0c0c0" stroke-width="1" stroke-dasharray="3,3" shape-rendering="crispEdges"/>
<line x1="6" y1="574.5" x2="1167" y2="574.5" stroke="#c0c0c0" stroke-width="1" stroke-dasharray="3,3" shape-rendering="crispEdges"/>
<path d="M5 548h2v1h-2zM7 547h2v1h-2zM9 546h1v1h-1zM10 545h2v1h-2zM12 544h8v1h-8zM20 543h2v1h-2zM22 544h1v1h-1zM23 545h1v1h-1zM24 546h1v1h-1zM25 547h1v1h-1zM26 548h1v1h-1zM27 549h1v1h-1zM28 550h2v1h-2zM30 551h2v1h-2zM32 552h3v1h-3zM35 553h2v1h-2zM37 554h3v1h-3zM40 555h3v1h-3zM43 556h7v1h-7zM50 555h7v1h-7zM57 554h5v1h-5zM62 553h2v1h-2zM64 552h2v1h-2zM66 551h2v1h-2zM68 550h2v1h-2zM70 549h2v1h-2zM72 548h2v1h-2zM74 547h2v1h-2zM76 546h4v1h-4zM80 545h5v1h-5zM85 544h1v1h-1zM86 545h1v1h-1zM87 546h2v1h-2zM89 547h1v1h-1zM90 548h2v1h-2zM92 549h1v1h-1zM93 550h2v1h-2zM95 551h2v1h-2zM97 552h2v1h-2zM99 553h1v1h-1zM100 554h10v1h-10zM110 555h3v1h-3zM113 556h5v1h-5zM118 557h4v1h-4zM122 558h16v1h-16zM138 557h5v1h-5zM143 558h4v1h-4zM147 559h11v1h-11zM158 558h1v1h-1zM159 557h1v1h-1zM160 555h1v2h-1zM161 554h1v1h-1zM162 553h1v1h-1zM163 552h1v1h-1zM164 551h1v1h-1zM165 549h1v2h-1zM166 549h1v1h-1zM167 550h16v1h-16zM183 549h2v1h-2zM185 548h2v1h-2zM187 547h2v1h-2zM189 546h9v1h-9zM198 547h1v2h-1zM199 549h1v1h-1zM200 550h1v2h-1zM201 552h1v1h-1zM202 553h1v2h-1zM203 555h1v1h-1zM204 556h1v2h-1zM205 558h1v1h-1zM206 559h2v1h-2zM208 560h1v1h-1zM209 561h2v1h-2zM211 562h2v1h-2zM213 563h4v1h-4zM217 562h9v1h-9zM226 563h5v1h-5zM231 564h2v1h-2zM233 565h2v1h-2zM235 566h2v1h-2zM237 567h1v1h-1zM238 566h2v1h-2zM240 565h2v1h-2zM242 564h3v1h-3zM245 563h2v1h-2zM247 562h3v1h-3zM250 561h3v1h-3zM253 560h9v1h-9zM262 561h1v1h-1zM263 562h2v1h-2zM265 563h1v1h-1zM266 564h1v1h-1zM267 565h2v1h-2zM269 566h6v1h-6zM275 565h12v1h-12zM287 566h6v1h-6zM293 567h1v1h-1zM294 566h6v1h-6zM300 565h2v1h-2zM302 566h1v1h-1zM303 567h2v1h-2zM305 568h1v1h-1zM306 569h1v1h-1zM307 570h2v1h-2zM309 571h2v1h-2zM311 572h5v1h-5zM316 573h3v1h-3zM319 574h2v1h-2zM321 575h2v1h-2zM323 576h8v1h-8zM331 575h5v1h-5zM336 576h8v1h-8zM344 575h2v1h-2zM346 574h3v1h-3zM349 573h2v1h-2zM351 574h3v1h-3zM354 575h3v1h-3zM357 576h1v1h-1zM358 575h3v1h-3zM361 574h5v1h-5zM366 573h7v1h-7zM373 572h17v1h-17zM390 573h1v1h-1zM391 574h3v1h-3zM394 575h1v1h-1zM395 576h11v1h-11zM406 574h1v2h-1zM407 572h1v2h-1zM408 570h1v2h-1zM409 568h1v2h-1zM410 566h1v2h-1zM411 564h1v2h-1zM412 562h1v2h-1zM413 560h1v2h-1zM414 559h5v1h-5zM419 558h5v1h-5zM424 557h5v1h-5zM429 556h2v1h-2zM431 557h8v1h-8zM439 556h2v1h-2zM441 555h2v1h-2zM443 554h2v1h-2zM445 553h3v1h-3zM448 552h2v1h-2zM450 551h3v1h-3zM453 550h13v1h-13zM466 549h14v1h-14zM480 550h6v1h-6zM486 551h2v1h-2zM488 552h2v1h-2zM490 553h2v1h-2zM492 554h3v1h-3zM495 555h2v1h-2zM497 556h3v1h-3zM500 557h4v1h-4zM504 556h2v1h-2zM506 555h3v1h-3zM509 554h1v1h-1zM510 555h4v1h-4zM514 556h4v1h-4zM518 557h5v1h-5zM523 558h4v1h-4zM527 559h2v1h-2zM529 560h3v1h-3zM532 561h3v1h-3zM535 562h6v1h-6zM541 563h3v1h-3zM544 564h3v1h-3zM547 565h2v1h-2zM549 566h1v1h-1zM550 564h1v2h-1zM551 563h1v1h-1zM552 562h1v1h-1zM553 561h1v1h-1zM554 560h1v1h-1zM555 559h1v1h-1zM556 557h1v2h-1zM557 556h7v1h-7zM564 555h2v1h-2zM566 556h5v1h-5zM571 557h4v1h-4zM575 558h4v1h-4zM579 559h4v1h-4zM583 558h2v1h-2zM585 557h1v1h-1zM586 556h2v1h-2zM588 555h2v1h-2zM590 554h1v1h-1zM591 553h1v1h-1zM592 552h1v1h-1zM593 550h1v2h-1zM594 549h1v1h-1zM595 548h1v1h-1zM596 547h1v1h-1zM597 546h1v1h-1zM598 547h2v1h-2zM600 548h2v1h-2zM602 549h2v1h-2zM604 550h4v1h-4zM608 551h6v1h-6zM614 552h2v1h-2zM616 553h2v1h-2zM618 554h2v1h-2zM620 555h5v1h-5zM625 554h4v1h-4zM629 553h1v1h-1zM630 554h1v2h-1zM631 556h1v1h-1zM632 557h1v1h-1zM633 558h1v1h-1zM634 559h1v1h-1zM635 560h1v2h-1zM636 562h1v1h-1zM637 563h2v1h-2zM639 564h4v1h-4zM643 565h4v1h-4zM647 566h6v1h-6zM653 567h8v1h-8zM661 568h8v1h-8zM669 569h1v1h-1zM670 568h2v1h-2zM672 567h3v1h-3zM675 566h3v1h-3zM678 565h3v1h-3zM681 564h3v1h-3zM684 563h5v1h-5zM689 564h7v1h-7zM696 563h4v1h-4zM700 562h3v1h-3zM703 561h3v1h-3zM706 560h3v1h-3zM709 559h2v1h-2zM711 560h6v1h-6zM717 561h1v1h-1zM718 560h6v1h-6zM724 559h3v1h-3zM727 558h3v1h-3zM730 557h3v1h-3zM733 556h1v1h-1zM734 557h1v1h-1zM735 558h1v1h-1zM736 559h1v1h-1zM737 560h1v1h-1zM738 561h1v1h-1zM739 562h1v1h-1zM740 563h1v1h-1zM741 564h1v1h-1zM742 563h2v1h-2zM744 562h2v1h-2zM746 561h1v1h-1zM747 560h2v1h-2zM749 559h2v1h-2zM751 560h6v1h-6zM757 561h1v1h-1zM758 560h2v1h-2zM760 559h1v1h-1zM761 558h2v1h-2zM763 557h2v1h-2zM765 556h7v1h-7zM772 555h2v1h-2zM774 556h2v1h-2zM776 557h3v1h-3zM779 558h2v1h-2zM781 559h2v1h-2zM783 560h3v1h-3zM786 561h2v1h-2zM788 562h3v1h-3zM791 563h4v1h-4zM795 564h4v1h-4zM799 565h3v1h-3zM802 566h3v1h-3zM805 567h1v1h-1zM806 566h3v1h-3zM809 565h3v1h-3zM812 564h3v1h-3zM815 565h4v1h-4zM819 566h3v1h-3zM822 567h2v1h-2zM824 568h2v1h-2zM826 569h1v1h-1zM827 570h2v1h-2zM829 571h1v1h-1zM830 570h6v1h-6zM836 569h7v1h-7zM843 568h6v1h-6zM849 567h5v1h-5zM854 566h6v1h-6zM860 565h3v1h-3zM863 564h2v1h-2zM865 563h2v1h-2zM867 562h2v1h-2zM869 561h9v1h-9zM878 562h3v1h-3zM881 563h2v1h-2zM883 564h2v1h-2zM885 565h1v1h-1zM886 564h2v1h-2zM888 563h2v1h-2zM890 562h2v1h-2zM892 561h3v1h-3zM895 560h9v1h-9zM904 559h4v1h-4zM908 558h10v1h-10z" fill="#1e90ff"/>
</g>
</g>
<rect x="4" y="31" width="1164" height="1" fill="#000"/>
<rect x="4" y="31" width="1" height="567" fill="#000"/>
<rect x="1167" y="31" width="1" height="567" fill="#000"/>
<rect x="4" y="441" width="1164" height="1" fill="#000"/>
<rect x="4" y="443" width="1164" height="1" fill="#000"/>
<rect x="4" y="518" width="1164" height="1" fill="#000"/>
<rect x="4" y="520" width="1164" height="1" fill="#000"/>
<rect x="4" y="597" width="1164" height="1" fill="#000"/>
<rect x="4" y="442" width="1164" height="1" fill="#fff"/>
<rect x="4" y="519" width="1164" height="1" fill="#fff"/>
<rect x="1168" y="42" width="2" height="1" fill="#000"/>
<rect x="1168" y="75" width="2" height="1" fill="#000"/>
<rect x="1168" y="108" width="2" height="1" fill="#000"/>
<rect x="1168" y="141" width="2" height="1" fill="#000"/>
<rect x="1168" y="174" width="2" height="1" fill="#000"/>
<rect x="1168" y="207" width="2" height="1" fill="#000"/>
<rect x="1168" y="240" width="2" height="1" fill="#000"/>
<rect x="1168" y="273" width="2" height="1" fill="#000"/>
<rect x="1168" y="306" width="2" height="1" fill="#000"/>
<rect x="1168" y="339" width="2" height="1" fill="#000"/>
<rect x="1168" y="372" width="2" height="1" fill="#000"/>
<rect x="1168" y="405" width="2" height="1" fill="#000"/>
<rect x="1168" y="438" width="2" height="1" fill="#000"/>
<rect x="1168" y="445" width="1" height="1" fill="#000"/>
<rect x="1168" y="476" width="2" height="1" fill="#000"/>
<rect x="1168" y="517" width="1" height="1" fill="#000"/>
<rect x="1168" y="522" width="1" height="1" fill="#000"/>
<rect x="1168" y="544" width="2" height="1" fill="#000"/>
<rect x="1168" y="574" width="2" height="1" fill="#000"/>
<rect x="1168" y="596" width="1" height="1" fill="#000"/>
<rect x="5" y="598" width="1" height="3" fill="#000"/>
<rect x="69" y="598" width="1" height="3" fill="#000"/>
<rect x="133" y="598" width="1" height="3" fill="#000"/>
<rect x="197" y="598" width="1" height="3" fill="#000"/>
<rect x="261" y="598" width="1" height="3" fill="#000"/>
<rect x="325" y="598" width="1" height="3" fill="#000"/>
<rect x="389" y="598" width="1" height="3" fill="#000"/>
<rect x="453" y="598" width="1" height="3" fill="#000"/>
<rect x="517" y="598" width="1" height="3" fill="#000"/>
<rect x="581" y="598" width="1" height="3" fill="#000"/>
<rect x="645" y="598" width="1" height="3" fill="#000"/>
<rect x="709" y="598" width="1" height="3" fill="#000"/>
<rect x="773" y="598" width="1" height="3" fill="#000"/>
<rect x="837" y="598" width="1" height="3" fill="#000"/>
<rect x="901" y="598" width="1" height="3" fill="#000"/>
<rect x="1169" y="245" width="41" height="11" fill="#000"/>
</svg>

<!-- one click trading panel -->
<div class="abs" style="left:5px;top:32px;width:225px;height:85px;background:#fff"></div>
<svg class="abs" style="left:8px;top:38px" width="7" height="4" shape-rendering="crispEdges"><path d="M3 0h1v1h1v1h1v1h1v1h-7v-1h1v-1h1v-1h1z" fill="#000"/></svg>
<div class="abs" style="left:8px;top:51px;width:52px;height:25px;background:linear-gradient(#f85050,#e03030);box-sizing:border-box;border:1px solid #c80000;border-bottom:none"></div>
<div class="abs" style="left:175.5px;top:51px;width:51.5px;height:25px;background:linear-gradient(#f85050,#e03030);box-sizing:border-box;border:1px solid #c80000;border-bottom:none"></div>
<div class="abs" style="left:8px;top:75px;width:109px;height:40px;background:linear-gradient(#e23232,#c81818 55%,#a80000);box-sizing:border-box;border:1px solid #b00000;border-top:none"></div>
<div class="abs" style="left:119px;top:75px;width:108px;height:40px;background:linear-gradient(#e23232,#c81818 55%,#a80000);box-sizing:border-box;border:1px solid #b00000;border-top:none"></div>
<div class="abs" style="left:12px;top:74px;width:44px;height:1px;background:#b01010"></div>
<div class="abs" style="left:12px;top:75px;width:44px;height:1px;background:#ffb0b0"></div>
<div class="abs" style="left:179px;top:74px;width:44px;height:1px;background:#b01010"></div>
<div class="abs" style="left:179px;top:75px;width:44px;height:1px;background:#ffb0b0"></div>
<!-- lot control -->
<div class="abs" style="left:62px;top:51px;width:111px;height:22px;background:#fff;box-sizing:border-box;border:1px solid #abadb3"></div>
<div class="abs" style="left:63.5px;top:52.6px;width:19.5px;height:19px;background:linear-gradient(#f0f0f0,#e2e2e2 45%,#cfcfcf 50%,#c8c8c8);box-sizing:border-box;border:1px solid #c0c4cc"></div>
<div class="abs" style="left:152px;top:52.6px;width:20px;height:19px;background:linear-gradient(#f0f0f0,#e2e2e2 45%,#cfcfcf 50%,#c8c8c8);box-sizing:border-box;border:1px solid #c0c4cc"></div>
<svg class="abs" style="left:70px;top:60px" width="6" height="4"><path d="M0 0 L5.4 0 L2.7 3.2 Z" fill="#4a5cb4"/></svg>
<svg class="abs" style="left:159px;top:60px" width="6" height="4"><path d="M0 3.2 L5.4 3.2 L2.7 0 Z" fill="#4a5cb4"/></svg>
<div class="t h" style="left:124.3px;top:55.74px;font-size:12px;color:#fff;color:#111">0.05</div><div class="t h" style="left:20.3px;top:56.71px;font-size:11.8px;color:#fff;letter-spacing:-0.85px">SELL</div><div class="t h" style="left:188.5px;top:56.71px;font-size:11.8px;color:#fff;letter-spacing:-0.3px">BUY</div><div class="t h" style="left:27.9px;top:95.54px;font-size:12px;color:#fff;font-weight:bold">0.70</div><div class="t h" style="left:138px;top:95.54px;font-size:12px;color:#fff;font-weight:bold">0.71</div><div class="t h" style="left:54.9px;top:76.67px;font-size:35px;color:#fff;letter-spacing:-1.9px;-webkit-text-stroke:0.9px #cf2222">98</div><div class="t h" style="left:165.2px;top:76.97px;font-size:35px;color:#fff;letter-spacing:-1.6px;-webkit-text-stroke:0.9px #cf2222">00</div><div class="t h" style="left:95.3px;top:80.07px;font-size:11.5px;color:#fff;font-weight:bold">7</div><div class="t h" style="left:206px;top:80.07px;font-size:11.5px;color:#fff;font-weight:bold">7</div>

<!-- bottom tabs -->
<div class="abs" style="left:2px;top:618px;width:1208px;height:1px;background:#e9e9e9"></div>
<div class="abs" style="left:2px;top:619px;width:1208px;height:1px;background:#f4f4f4"></div>
<div class="abs" style="left:0;top:620px;width:1210px;height:19px;background:#f0f0f0"></div>
<div class="abs" style="left:0;top:620px;width:1px;height:19px;background:#a0a0a0"></div>
<div class="abs" style="left:1px;top:620px;width:1px;height:19px;background:#6e6e6e"></div>
<div class="abs" style="left:2px;top:620px;width:1208px;height:1px;background:#000"></div>
<div class="abs" style="left:110px;top:620px;width:104px;height:19px;background:#fff;box-sizing:border-box;border:1px solid #000;border-top:none"></div>
<div class="abs" style="left:214px;top:621px;width:1px;height:18px;background:#a0a0a0"></div>
<div class="abs" style="left:109px;top:621px;width:1px;height:18px;background:#fff"></div>
<div class="abs" style="left:0;top:639px;width:1210px;height:6px;background:#f0f0f0"></div>
<div class="abs" style="left:0;top:640px;width:1210px;height:1px;background:#fff"></div>
<div class="abs" style="left:0;top:643px;width:1210px;height:1px;background:#dedede"></div>
<div class="abs" style="left:0;top:644px;width:1210px;height:1px;background:#8c8c8c"></div>
<div style="position:absolute;left:314px;top:623px;width:1px;height:14px;background:#808080"></div><div style="position:absolute;left:418px;top:623px;width:1px;height:14px;background:#808080"></div><div style="position:absolute;left:523px;top:623px;width:1px;height:14px;background:#808080"></div><div style="position:absolute;left:618px;top:623px;width:1px;height:14px;background:#808080"></div><div style="position:absolute;left:710px;top:623px;width:1px;height:14px;background:#808080"></div><div style="position:absolute;left:802px;top:623px;width:1px;height:14px;background:#808080"></div><div style="position:absolute;left:890px;top:623px;width:1px;height:14px;background:#808080"></div><div style="position:absolute;left:994px;top:623px;width:1px;height:14px;background:#808080"></div><div style="position:absolute;left:1062px;top:623px;width:1px;height:14px;background:#808080"></div><div style="position:absolute;left:1154px;top:623px;width:1px;height:14px;background:#808080"></div>
<div class="abs" style="left:1179px;top:621px;width:31px;height:17px;background:#f0f0f0"></div>
<svg class="abs" style="left:1182px;top:625px" width="6" height="8"><path d="M4.1 1 L4.1 7 L0.9 4 Z" fill="#808080"/></svg>
<svg class="abs" style="left:1201px;top:625px" width="6" height="8"><path d="M1 1 L1 7 L4.2 4 Z" fill="#000"/></svg>

<div class="t" style="left:4px;top:603px;font-size:9.5px;letter-spacing:-0.12px">6 Nov 2018</div><div class="t" style="left:68px;top:603px;font-size:9.5px;letter-spacing:-0.12px">15 Nov 2018</div><div class="t" style="left:132px;top:603px;font-size:9.5px;letter-spacing:-0.12px">24 Nov 2018</div><div class="t" style="left:196px;top:603px;font-size:9.5px;letter-spacing:-0.12px">4 Dec 2018</div><div class="t" style="left:260px;top:603px;font-size:9.5px;letter-spacing:-0.12px">13 Dec 2018</div><div class="t" style="left:324px;top:603px;font-size:9.5px;letter-spacing:-0.12px">22 Dec 2018</div><div class="t" style="left:388px;top:603px;font-size:9.5px;letter-spacing:-0.12px">1 Jan 2019</div><div class="t" style="left:452px;top:603px;font-size:9.5px;letter-spacing:-0.12px">10 Jan 2019</div><div class="t" style="left:516px;top:603px;font-size:9.5px;letter-spacing:-0.12px">19 Jan 2019</div><div class="t" style="left:580px;top:603px;font-size:9.5px;letter-spacing:-0.12px">29 Jan 2019</div><div class="t" style="left:644px;top:603px;font-size:9.5px;letter-spacing:-0.12px">7 Feb 2019</div><div class="t" style="left:708px;top:603px;font-size:9.5px;letter-spacing:-0.12px">16 Feb 2019</div><div class="t" style="left:772px;top:603px;font-size:9.5px;letter-spacing:-0.12px">26 Feb 2019</div><div class="t" style="left:836px;top:603px;font-size:9.5px;letter-spacing:-0.12px">7 Mar 2019</div><div class="t" style="left:900px;top:603px;font-size:9.5px;letter-spacing:-0.12px">16 Mar 2019</div><div class="t ax" style="left:1173.2px;top:39px;font-size:9.5px;">0.74070</div><div class="t ax" style="left:1173.2px;top:72px;font-size:9.5px;">0.73580</div><div class="t ax" style="left:1173.2px;top:105px;font-size:9.5px;">0.73090</div><div class="t ax" style="left:1173.2px;top:138px;font-size:9.5px;">0.72600</div><div class="t ax" style="left:1173.2px;top:171px;font-size:9.5px;">0.72110</div><div class="t ax" style="left:1173.2px;top:204px;font-size:9.5px;">0.71620</div><div class="t ax" style="left:1173.2px;top:237px;font-size:9.5px;">0.71140</div><div class="t ax" style="left:1173.2px;top:270px;font-size:9.5px;">0.70650</div><div class="t ax" style="left:1173.2px;top:303px;font-size:9.5px;">0.70160</div><div class="t ax" style="left:1173.2px;top:336px;font-size:9.5px;">0.69670</div><div class="t ax" style="left:1173.2px;top:369px;font-size:9.5px;">0.69180</div><div class="t ax" style="left:1173.2px;top:402px;font-size:9.5px;">0.68690</div><div class="t ax" style="left:1173.2px;top:435px;font-size:9.5px;">0.68200</div><div class="t ax" style="left:1173.2px;top:247px;font-size:9.5px;color:#fff">0.70987</div><div class="t ax" style="left:1171.3px;top:447px;font-size:9.5px;">0.004517</div><div class="t ax" style="left:1171.3px;top:473px;font-size:9.5px;">0.00</div><div class="t ax" style="left:1171.3px;top:508px;font-size:9.5px;">-0.005899</div><div class="t ax" style="left:1171.3px;top:524px;font-size:9.5px;">100</div><div class="t ax" style="left:1170.8px;top:541px;font-size:9.5px;">70</div><div class="t ax" style="left:1170.8px;top:571px;font-size:9.5px;">30</div><div class="t ax" style="left:1171.3px;top:587px;font-size:9.5px;">0</div><div class="t" style="left:9.5px;top:449px;font-size:9.5px;letter-spacing:-0.04px">MACD(12,26,9) -0.001026 -0.001947</div><div class="t" style="left:9.5px;top:526px;font-size:9.5px;letter-spacing:-0.1px">RSI(14) 51.0897</div><div class="t" style="left:20.5px;top:36px;font-size:9.5px;letter-spacing:0.2px">AUDUSD,Daily</div><div class="t" style="left:92.3px;top:36px;font-size:9.5px;letter-spacing:-0.12px">0.70987 0.71051 0.70890 0.70987</div><div class="t tb" style="left:-12.3px;top:12px;font-size:9.5px;">M15</div><div class="t tb" style="left:16.5px;top:12px;font-size:9.5px;">M30</div><div class="t tb" style="left:47.7px;top:12px;font-size:9.5px;">H1</div><div class="t tb" style="left:74.5px;top:12px;font-size:9.5px;">H4</div><div class="t tb" style="left:103.7px;top:12px;font-size:9.5px;">D1</div><div class="t tb" style="left:131.2px;top:12px;font-size:9.5px;">W1</div><div class="t tb" style="left:157.5px;top:12px;font-size:9.5px;">MN</div><div class="t tab" style="left:18.4px;top:625px;font-size:12px;">EURUSD,Daily</div><div class="t tab" style="left:224.7px;top:625px;font-size:12px;">USDCHF,Daily</div><div class="t tab" style="left:325.6px;top:625px;font-size:12px;">USDCAD,Daily</div><div class="t tab" style="left:429px;top:625px;font-size:12px;">USDCNH,Daily</div><div class="t tab" style="left:532.6px;top:625px;font-size:12px;">USDJPY,Daily</div><div class="t tab" style="left:629px;top:625px;font-size:12px;">XAUUSD,H1</div><div class="t tab" style="left:722.3px;top:625px;font-size:12px;">GBPUSD,H4</div><div class="t tab" style="left:814.2px;top:625px;font-size:12px;">SP500,M15</div><div class="t tab" style="left:902.3px;top:625px;font-size:12px;">GBPUSD,Daily</div><div class="t tab" style="left:1004.9px;top:625px;font-size:12px;">DJ30,H4</div><div class="t tab" style="left:1072.9px;top:625px;font-size:12px;">TECH100,H1</div><div class="t tab" style="left:121.3px;top:625px;font-size:12px;color:#000;letter-spacing:0.1px">AUDUSD,Daily</div><div class="t tab" style="left:1166.4px;top:625px;font-size:12px;width:10.6px;overflow:hidden">UK</div>
</body></html>
